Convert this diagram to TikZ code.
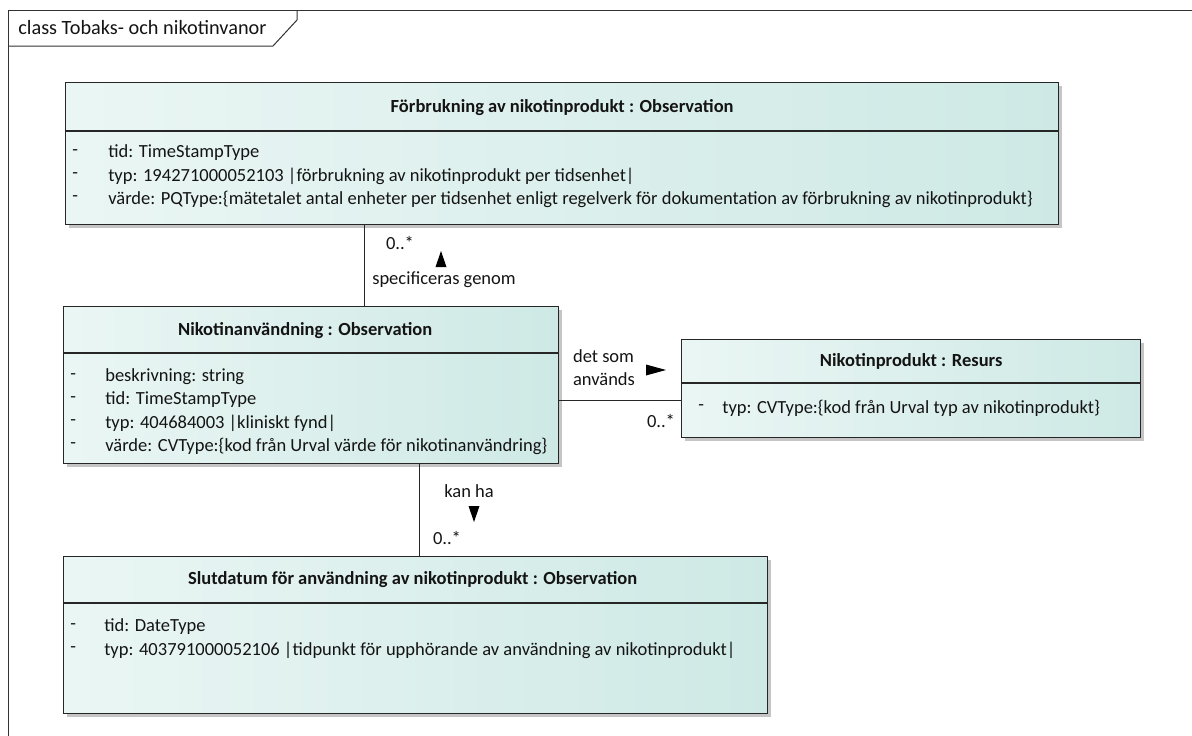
\documentclass[tikz,border=0pt]{standalone}
\usepackage{fontspec}
\setmainfont{Carlito}
\usetikzlibrary{arrows, shadows, positioning, calc}

\definecolor{klassljus}{RGB}{234,246,244}
\definecolor{klassmork}{RGB}{206,233,229}
\definecolor{textgra}{RGB}{20,20,20}

\begin{document}
\begin{tikzpicture}[x=1pt,y=-1pt,semithick,font=\fontsize{18.5}{23}\selectfont,text=textgra]
    \tikzstyle{klass}=[draw=black!85, line width=1.3pt, left color=klassljus, right color=klassmork,
        anchor=north west, inner sep=0pt,
        drop shadow={shadow xshift=3pt, shadow yshift=-3pt, fill=black!45, opacity=.5}]
    \tikzstyle{delning}=[draw=black!85, line width=1.3pt]
    \tikzstyle{rubrik}=[font=\fontsize{18.5}{23}\selectfont\bfseries, inner sep=0pt]
    \tikzstyle{attr}=[anchor=west, inner sep=0pt]
    \tikzstyle{etikett}=[inner sep=0pt, align=left]
    \tikzstyle{pil}=[fill=black]
    \useasboundingbox (0,0) rectangle (1192,736);

    % ram
    \draw[black!80, line width=1pt] (8,736) -- (8,10) -- (1192,10);
    \draw[black!80, line width=1pt] (8,46) -- (273,46) -- (297,20) -- (297,10);
    \node[attr, font=\fontsize{20.3}{24}\selectfont] (ramtitel) at (18,28) {class Tobaks- och nikotinvanor};

    % klasser
    \node[klass, minimum width=993pt, minimum height=142pt] (forb)    at (65,82)   {};
    \node[klass, minimum width=495pt, minimum height=157pt] (nikanv)  at (63,306)  {};
    \node[klass, minimum width=459pt, minimum height=98pt]  (nikprod) at (681,339) {};
    \node[klass, minimum width=704pt, minimum height=157pt] (slut)    at (63,556)  {};

    \draw[delning] ($(forb.north west)+(0,49)$)    -- ($(forb.north east)+(0,49)$);
    \draw[delning] ($(nikanv.north west)+(0,47)$)  -- ($(nikanv.north east)+(0,47)$);
    \draw[delning] ($(nikprod.north west)+(0,44)$) -- ($(nikprod.north east)+(0,44)$);
    \draw[delning] ($(slut.north west)+(0,47)$)    -- ($(slut.north east)+(0,47)$);

    \node[rubrik] (forb-titel)    at ($(forb.north)+(0,26)$)    {Förbrukning av nikotinprodukt : Observation};
    \node[rubrik] (nikanv-titel)  at ($(nikanv.north)+(-6,25)$) {Nikotinanvändning : Observation};
    \node[rubrik] (nikprod-titel) at ($(nikprod.north)+(0,22)$) {Nikotinprodukt : Resurs};
    \node[rubrik] (slut-titel)    at ($(slut.north)+(-3,24)$)   {Slutdatum för användning av nikotinprodukt : Observation};

    \foreach \rad [count=\i from 0] in {{tid: TimeStampType},
            {typ: 194271000052103 |förbrukning av nikotinprodukt per tidsenhet|},
            {värde: PQType:\{mätetalet antal enheter per tidsenhet enligt regelverk för dokumentation av förbrukning av nikotinprodukt\}}}
    {
        \node[attr] (forb-s\i) at ($(forb.north west)+(7,71+23*\i)$)  {-};
        \node[attr] (forb-a\i) at ($(forb.north west)+(43,71+23*\i)$) {\rad};
    }
    \foreach \rad [count=\i from 0] in {{beskrivning: string}, {tid: TimeStampType},
            {typ: 404684003 |kliniskt fynd|},
            {värde: CVType:\{kod från Urval värde för nikotinanvändring\}}}
    {
        \node[attr] (nikanv-s\i) at ($(nikanv.north west)+(7,71+23*\i)$)  {-};
        \node[attr] (nikanv-a\i) at ($(nikanv.north west)+(42,71+23*\i)$) {\rad};
    }
    \node[attr] (nikprod-s0) at ($(nikprod.north west)+(17,69)$) {-};
    \node[attr] (nikprod-a0) at ($(nikprod.north west)+(41,69)$) {typ: CVType:\{kod från Urval typ av nikotinprodukt\}};
    \foreach \rad [count=\i from 0] in {{tid: DateType},
            {typ: 403791000052106 |tidpunkt för upphörande av användning av nikotinprodukt|}}
    {
        \node[attr] (slut-s\i) at ($(slut.north west)+(7,71+23*\i)$)  {-};
        \node[attr] (slut-a\i) at ($(slut.north west)+(41,71+23*\i)$) {\rad};
    }

    % kopplingar
    \coordinate (k1) at (364,0);
    \coordinate (k2) at (0,400);
    \coordinate (k3) at (419,0);
    \draw[black!85] (forb.south -| k1) -- (nikanv.north -| k1);
    \draw[black!85] (nikanv.east |- k2) -- (nikprod.west |- k2);
    \draw[black!85] (nikanv.south -| k3) -- (slut.north -| k3);

    \node[etikett] (m1) at (400,243) {0..*};
    \node[etikett] (e1) at (444,280) {specificeras genom};
    \coordinate (p1) at (441,259);
    \fill[pil] ($(p1)+(-5.5,8)$) -- ($(p1)+(5.5,8)$) -- ($(p1)+(0,-8)$) -- cycle;

    \node[etikett] (e2) at (604,368) {det som\\används};
    \node[etikett] (m2) at (661,421) {0..*};
    \coordinate (p2) at (656,370);
    \fill[pil] ($(p2)+(-10,-5.5)$) -- ($(p2)+(-10,5.5)$) -- ($(p2)+(10,0)$) -- cycle;

    \node[etikett] (e3) at (469,491) {kan ha};
    \node[etikett] (m3) at (447,538) {0..*};
    \coordinate (p3) at (474,514);
    \fill[pil] ($(p3)+(-5.5,-8)$) -- ($(p3)+(5.5,-8)$) -- ($(p3)+(0,8)$) -- cycle;
\end{tikzpicture}
\end{document}
